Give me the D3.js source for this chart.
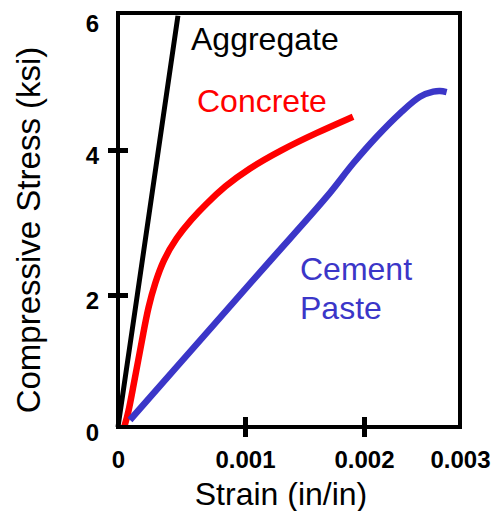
<!DOCTYPE html>
<html>
<head>
<meta charset="utf-8">
<script src="https://cdn.jsdelivr.net/npm/d3@7"></script>
<style>
  html, body { margin: 0; padding: 0; background: #fff; }
  svg { display: block; font-family: "Liberation Sans", Arial, sans-serif; }
</style>
</head>
<body>
<svg id="chart" width="493" height="511"></svg>
<script>
// ---- data ----
const xTicks = [0, 0.001, 0.002, 0.003];
const xTickLabels = ["0", "0.001", "0.002", "0.003"];
const yTicks = [0, 2, 4, 6];
const yTickLabels = ["0", "2", "4", "6"];

const aggregateStrain = [0, 0.000152, 0.000318, 0.000472];
const aggregateStress = [0, 2.00, 4.00, 5.96];

const concreteStrain = [0.000051, 0.000081, 0.000120, 0.000160, 0.000199, 0.000239, 0.000291, 0.000357, 0.000457, 0.000580, 0.000685, 0.000843, 0.001025, 0.001303, 0.001597, 0.001908];
const concreteStress = [0.015, 0.208, 0.611, 1.015, 1.420, 1.823, 2.161, 2.483, 2.786, 3.048, 3.241, 3.503, 3.738, 4.000, 4.248, 4.486];

const pasteStrain = [0.0000945, 0.000764, 0.001210, 0.001687, 0.001910, 0.002132, 0.002375, 0.002583, 0.002722, 0.002792, 0.002861];
const pasteStress = [0.106, 1.571, 2.469, 3.356, 3.817, 4.194, 4.536, 4.778, 4.851, 4.861, 4.844];

const seriesNames = ["Aggregate", "Concrete", "Cement Paste"];
const xTitle = "Strain (in/in)";
const yTitle = "Compressive Stress (ksi)";

// ---- layout ----
const svg = d3.select("#chart");
const plotLeft = 118, plotRight = 460, plotTop = 13, plotBottom = 427;

// the printed axes are not evenly spaced; piecewise-linear scales follow the ticks
const x = d3.scaleLinear().domain(xTicks).range([118, 245, 364, 460]);
const y = d3.scaleLinear().domain(yTicks).range([427, 295, 150, 13]);

const zip = (a, b) => a.map((v, i) => [v, b[i]]);

const series = [
  { name: "Aggregate", pts: zip(aggregateStrain, aggregateStress), color: "#000000", width: 5, curve: d3.curveLinear },
  { name: "Concrete", pts: zip(concreteStrain, concreteStress), color: "#ff0000", width: 6.5, curve: d3.curveBasis },
  { name: "Cement Paste", pts: zip(pasteStrain, pasteStress), color: "#3b36c8", width: 6.5, curve: d3.curveCatmullRom.alpha(0.5) }
];

series.forEach(s => {
  svg.append("path")
    .attr("d", d3.line().x(d => x(d[0])).y(d => y(d[1])).curve(s.curve)(s.pts))
    .attr("fill", "none")
    .attr("stroke", s.color)
    .attr("stroke-width", s.width)
    .attr("stroke-linejoin", "round");
});

// frame
svg.append("rect")
  .attr("x", plotLeft).attr("y", plotTop)
  .attr("width", plotRight - plotLeft).attr("height", plotBottom - plotTop)
  .attr("fill", "none").attr("stroke", "#000").attr("stroke-width", 4);

// x axis
const xAxis = svg.append("g")
  .attr("transform", `translate(0,${plotBottom})`)
  .call(d3.axisBottom(x).tickValues(xTicks).tickFormat((d, i) => xTickLabels[i]).tickSize(10));
xAxis.select(".domain").remove();
xAxis.selectAll(".tick line")
  .attr("y1", -10).attr("y2", 10)
  .attr("stroke", "#000").attr("stroke-width", 5)
  .attr("display", (d, i) => (i === 0 || i === xTicks.length - 1) ? "none" : null);
xAxis.selectAll(".tick text")
  .attr("y", 41).attr("dy", 0)
  .attr("font-family", "Liberation Sans, Arial, sans-serif")
  .attr("font-size", 24).attr("font-weight", "bold").attr("fill", "#000");

// y axis
const yAxis = svg.append("g")
  .attr("transform", `translate(${plotLeft},0)`)
  .call(d3.axisLeft(y).tickValues(yTicks).tickFormat((d, i) => yTickLabels[i]).tickSize(10));
yAxis.select(".domain").remove();
yAxis.selectAll(".tick line")
  .attr("x1", -10).attr("x2", 10)
  .attr("stroke", "#000").attr("stroke-width", 5)
  .attr("display", (d, i) => (i === 0 || i === yTicks.length - 1) ? "none" : null);
yAxis.selectAll(".tick text")
  .attr("x", -19).attr("dy", (d, i) => i === yTicks.length - 1 ? "0.75em" : "0.55em")
  .attr("font-family", "Liberation Sans, Arial, sans-serif")
  .attr("font-size", 24).attr("font-weight", "bold").attr("fill", "#000");

// axis titles
svg.append("text")
  .attr("x", 281).attr("y", 505)
  .attr("text-anchor", "middle")
  .attr("font-size", 32).attr("fill", "#000")
  .text(xTitle);

svg.append("text")
  .attr("transform", "translate(40,230) rotate(-90)")
  .attr("text-anchor", "middle")
  .attr("font-size", 33).attr("fill", "#000")
  .text(yTitle);

// series labels
svg.append("text").attr("x", 191).attr("y", 50)
  .attr("font-size", 32).attr("fill", "#000").text(seriesNames[0]);
svg.append("text").attr("x", 197).attr("y", 112)
  .attr("font-size", 32).attr("fill", "#ff0000").text(seriesNames[1]);
const pasteWords = seriesNames[2].split(" ");
svg.append("text").attr("x", 300).attr("y", 280)
  .attr("font-size", 32).attr("fill", "#3b36c8").text(pasteWords[0]);
svg.append("text").attr("x", 300).attr("y", 319)
  .attr("font-size", 32).attr("fill", "#3b36c8").text(pasteWords[1]);
</script>
</body>
</html>
